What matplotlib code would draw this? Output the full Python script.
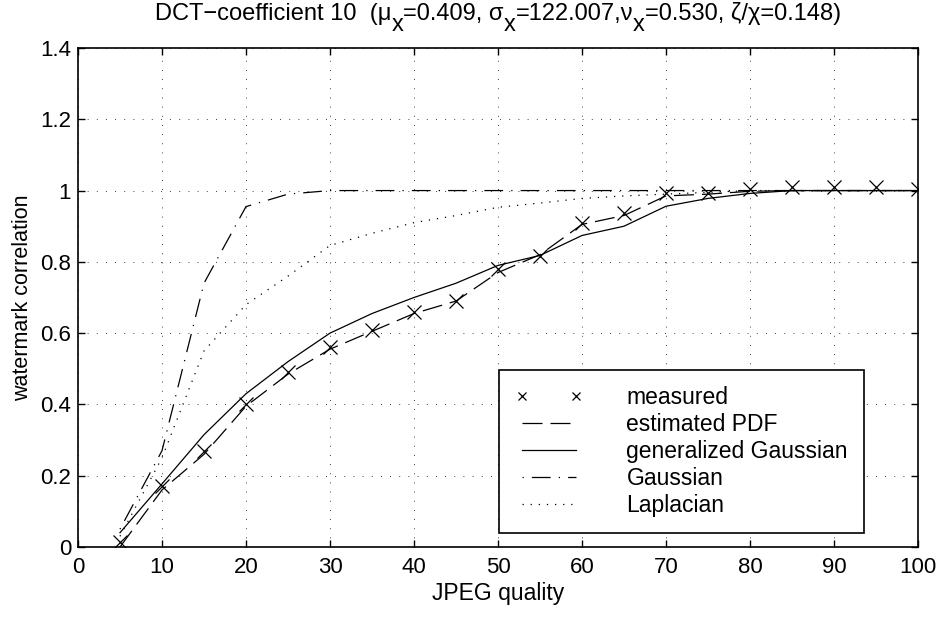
import numpy as np
import matplotlib
matplotlib.use("Agg")
import matplotlib.pyplot as plt

plt.rcParams['font.family'] = ['Liberation Sans', 'DejaVu Sans']

# JPEG quality levels
quality = [5, 10, 15, 20, 25, 30, 35, 40, 45, 50, 55, 60, 65, 70, 75, 80, 85, 90, 95, 100]

# watermark correlation curves
measured = [0.015, 0.17, 0.27, 0.40, 0.49, 0.56, 0.61, 0.66, 0.69, 0.78, 0.815, 0.908,
            0.936, 0.992, 0.992, 1.003, 1.009, 1.009, 1.009, 1.005]
estimated_pdf = [0.0, 0.16, 0.26, 0.395, 0.485, 0.555, 0.605, 0.655, 0.69, 0.77, 0.82, 0.905,
                 0.93, 0.985, 0.99, 0.998, 1.0, 1.0, 1.0, 1.0]
gen_gaussian = [0.04, 0.177, 0.315, 0.43, 0.52, 0.60, 0.655, 0.70, 0.74, 0.79, 0.818, 0.874,
                0.90, 0.956, 0.978, 0.992, 1.0, 1.0, 1.0, 1.0]
gaussian = [0.05, 0.27, 0.74, 0.955, 0.99, 1.0, 1.0, 1.0, 1.0, 1.0, 1.0, 1.0,
            1.0, 1.0, 1.0, 1.0, 1.0, 1.0, 1.0, 1.0]
laplacian = [0.03, 0.25, 0.55, 0.68, 0.76, 0.846, 0.88, 0.91, 0.93, 0.953, 0.965, 0.978,
             0.985, 0.99, 0.995, 1.0, 1.0, 1.0, 1.0, 1.0]

# title pieces (text, is_subscript)
title_parts = [('DCT\u2212coefficient 10  (\u03bc', False), ('x', True),
               ('=0.409, \u03c3', False), ('x', True),
               ('=122.007,\u03bd', False), ('x', True),
               ('=0.530, \u03b6/\u03c7=0.148)', False)]

W, H = 943, 617
fig = plt.figure(figsize=(W / 100, H / 100), dpi=100)
ax = fig.add_axes([0.0827, 0.1135, 0.8908, 0.8087])

ax.plot(quality, measured, linestyle='none', marker='x', color='black',
        markersize=10.5, markeredgewidth=0.9, label='measured')
ax.plot(quality, estimated_pdf, color='black', linewidth=0.9,
        linestyle=(0, (16, 6.4)), label='estimated PDF')
ax.plot(quality, gen_gaussian, color='black', linewidth=0.9,
        linestyle='-', label='generalized Gaussian')
ax.plot(quality, gaussian, color='black', linewidth=0.9,
        linestyle=(0, (1, 6.5, 15, 6.5)), label='Gaussian')
ax.plot(quality, laplacian, color='black', linewidth=0.9,
        linestyle=(0, (1, 5.5)), label='Laplacian')

ax.set_xlim(0, 100)
ax.set_ylim(0, 1.4)
ax.set_xticks(np.arange(0, 101, 10))
ax.set_yticks(np.arange(0, 1.41, 0.2))
ax.set_yticklabels(['0', '0.2', '0.4', '0.6', '0.8', '1', '1.2', '1.4'])
ax.tick_params(direction='in', top=True, right=True, labelsize=16, length=5, width=1)
ax.tick_params(axis='x', pad=7)
ax.tick_params(axis='y', pad=5)
for s in ax.spines.values():
    s.set_linewidth(1.2)

ax.grid(True, color='black', linestyle=(0, (1, 10)), linewidth=0.6)

ax.set_xlabel('JPEG quality', fontsize=16.5, labelpad=3)
ax.set_ylabel('watermark correlation', fontsize=15.5, labelpad=5)

leg = ax.legend(loc='lower left', bbox_to_anchor=(0.501, 0.028), borderaxespad=0,
                numpoints=2, fontsize=16.5, handlelength=2.97,
                markerscale=0.6, fancybox=False, framealpha=1, edgecolor='black',
                borderpad=0.7, labelspacing=0.17, handletextpad=1.9)
leg.get_frame().set_linewidth(1.2)

# title built from pieces so the subscripts stay full size, like the original
renderer = fig.canvas.get_renderer()
base_y = 1 - 20 / H
sub_drop = 11 / H
texts = [fig.text(0, base_y, s, fontsize=17, va='baseline', ha='left') for s, _ in title_parts]
widths = [t.get_window_extent(renderer).width for t in texts]
x = (78 + 918) / 2 - sum(widths) / 2
for t, (s, sub), w in zip(texts, title_parts, widths):
    t.set_position((x / W, base_y - (sub_drop if sub else 0)))
    x += w

fig.savefig('out.png', dpi=100)
